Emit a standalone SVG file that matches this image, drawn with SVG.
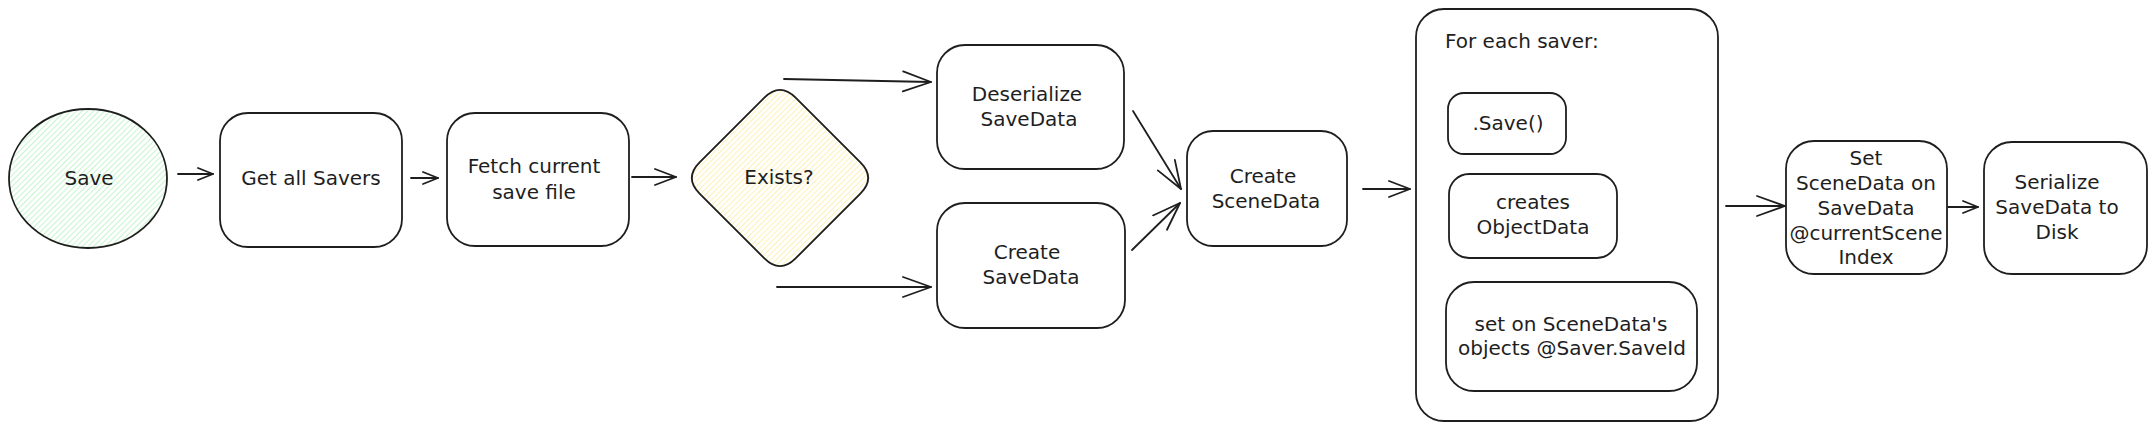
<svg xmlns="http://www.w3.org/2000/svg" width="2154" height="430" viewBox="0 0 2154 430">
  <style>
    .shape { stroke: #1e1e1e; stroke-width: 1.8; stroke-linejoin: round; }
    .box { stroke: #1e1e1e; stroke-width: 1.8; fill: #ffffff; }
    .lbl { font-family: "DejaVu Sans", "Liberation Sans", sans-serif; font-size: 20px; fill: #1e1e1e; text-anchor: middle; dominant-baseline: middle; }
    .conn { stroke: #1e1e1e; stroke-width: 1.8; fill: none; stroke-linecap: round; }
    .head { fill: none; stroke: #1e1e1e; stroke-width: 1.8; stroke-linecap: round; stroke-linejoin: round; }
  </style>
  <defs>
    <pattern id="hatchGreen" width="4" height="4" patternUnits="userSpaceOnUse" patternTransform="rotate(45)">
      <line x1="0" y1="0" x2="0" y2="4" stroke="#b2f2bb" stroke-width="1.5"/>
    </pattern>
    <pattern id="hatchYellow" width="4" height="4" patternUnits="userSpaceOnUse" patternTransform="rotate(45)">
      <line x1="0" y1="0" x2="0" y2="4" stroke="#ffec99" stroke-width="1.5"/>
    </pattern>
    <marker id="arrL" viewBox="0 0 30 24" refX="29" refY="12" markerWidth="30" markerHeight="24" markerUnits="userSpaceOnUse" orient="auto">
      <path class="head" d="M1,2 L29,12 L1,22"/>
    </marker>
    <marker id="arrM" viewBox="0 0 23 20" refX="22" refY="10" markerWidth="23" markerHeight="20" markerUnits="userSpaceOnUse" orient="auto">
      <path class="head" d="M1,2 L22,10 L1,18"/>
    </marker>
    <marker id="arrS" viewBox="0 0 17 16" refX="16" refY="8" markerWidth="17" markerHeight="16" markerUnits="userSpaceOnUse" orient="auto">
      <path class="head" d="M1,2 L16,8 L1,14"/>
    </marker>
  </defs>
  <rect width="2154" height="430" fill="#ffffff"/>

  <g id="connectors">
    <line class="conn" marker-end="url(#arrS)" x1="178" y1="174" x2="213" y2="174"/>
    <line class="conn" marker-end="url(#arrS)" x1="411" y1="178" x2="438" y2="178"/>
    <line class="conn" marker-end="url(#arrM)" x1="632" y1="177" x2="676" y2="177"/>
    <line class="conn" marker-end="url(#arrL)" x1="784" y1="79" x2="931" y2="82"/>
    <line class="conn" marker-end="url(#arrL)" x1="777" y1="287" x2="931" y2="287"/>
    <line class="conn" marker-end="url(#arrL)" x1="1133" y1="111" x2="1181" y2="189"/>
    <line class="conn" marker-end="url(#arrL)" x1="1132" y1="250" x2="1180" y2="203"/>
    <line class="conn" marker-end="url(#arrM)" x1="1363" y1="189" x2="1410" y2="189"/>
    <line class="conn" marker-end="url(#arrL)" x1="1726" y1="206" x2="1785" y2="206"/>
    <line class="conn" marker-end="url(#arrS)" x1="1948" y1="207" x2="1978" y2="207"/>
  </g>

  <g id="node-save">
    <ellipse class="shape" cx="88" cy="178.5" rx="79" ry="69.5" fill="url(#hatchGreen)"/>
    <text class="lbl" x="89" y="179">Save</text>
  </g>

  <g id="node-get-savers">
    <rect class="box" x="220" y="113" width="182" height="134" rx="28"/>
    <text class="lbl" x="311" y="179">Get all Savers</text>
  </g>

  <g id="node-fetch">
    <rect class="box" x="447" y="113" width="182" height="133" rx="28"/>
    <text class="lbl" x="534" y="167">Fetch current</text>
    <text class="lbl" x="534" y="193">save file</text>
  </g>

  <g id="node-exists">
    <path class="shape" fill="url(#hatchYellow)" d="M764.4,97.6 Q780,82 795.6,97.6 L860.4,162.4 Q876,178 860.4,193.6 L795.6,258.4 Q780,274 764.4,258.4 L699.6,193.6 Q684,178 699.6,162.4 Z"/>
    <text class="lbl" x="779" y="178">Exists?</text>
  </g>

  <g id="node-deserialize">
    <rect class="box" x="937" y="45" width="187" height="124" rx="28"/>
    <text class="lbl" x="1027" y="95">Deserialize</text>
    <text class="lbl" x="1029" y="120">SaveData</text>
  </g>

  <g id="node-create-savedata">
    <rect class="box" x="937" y="203" width="188" height="125" rx="28"/>
    <text class="lbl" x="1027" y="253">Create</text>
    <text class="lbl" x="1031" y="278">SaveData</text>
  </g>

  <g id="node-create-scenedata">
    <rect class="box" x="1187" y="131" width="160" height="115" rx="26"/>
    <text class="lbl" x="1263" y="177">Create</text>
    <text class="lbl" x="1266" y="202">SceneData</text>
  </g>

  <g id="node-for-each">
    <rect class="box" x="1416" y="9" width="302" height="412" rx="28"/>
    <text class="lbl" x="1445" y="42" style="text-anchor:start">For each saver:</text>
  </g>

  <g id="node-save-call">
    <rect class="box" x="1448" y="93" width="118" height="61" rx="16"/>
    <text class="lbl" x="1508" y="124">.Save()</text>
  </g>

  <g id="node-creates-objectdata">
    <rect class="box" x="1449" y="174" width="168" height="84" rx="20"/>
    <text class="lbl" x="1533" y="203">creates</text>
    <text class="lbl" x="1533" y="228">ObjectData</text>
  </g>

  <g id="node-set-on-scenedata">
    <rect class="box" x="1446" y="282" width="251" height="109" rx="28"/>
    <text class="lbl" x="1571" y="325">set on SceneData's</text>
    <text class="lbl" x="1572" y="349">objects @Saver.SaveId</text>
  </g>

  <g id="node-set-scenedata">
    <rect class="box" x="1786" y="141" width="161" height="133" rx="28"/>
    <text class="lbl" x="1866" y="159">Set</text>
    <text class="lbl" x="1866" y="184">SceneData on</text>
    <text class="lbl" x="1866" y="209">SaveData</text>
    <text class="lbl" x="1866" y="234">@currentScene</text>
    <text class="lbl" x="1866" y="258">Index</text>
  </g>

  <g id="node-serialize">
    <rect class="box" x="1984" y="142" width="163" height="132" rx="28"/>
    <text class="lbl" x="2057" y="183">Serialize</text>
    <text class="lbl" x="2057" y="208">SaveData to</text>
    <text class="lbl" x="2057" y="233">Disk</text>
  </g>
</svg>
